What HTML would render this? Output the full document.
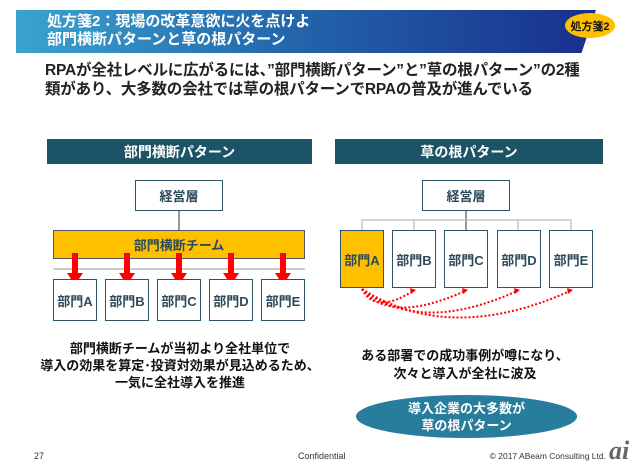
<!DOCTYPE html>
<html><head><meta charset="utf-8"><style>
*{margin:0;padding:0;box-sizing:border-box}
body{width:640px;height:471px;background:#fff;position:relative;overflow:hidden;font-family:"Liberation Sans","Noto Sans CJK JP",sans-serif;font-weight:bold}
.a{position:absolute}
.box{position:absolute;border:1.5px solid #2d5566;background:#fff;color:#2d4a5a;font-size:13px;display:flex;align-items:center;justify-content:center}
.t{position:absolute;text-align:center;white-space:nowrap}
</style></head><body>
<div class="a" style="left:16px;top:10px;width:580px;height:43px;background:linear-gradient(90deg,#3aa3cf,#2468ad 45%,#182f8c);clip-path:polygon(0 0,100% 0,97.5% 100%,0 100%)"></div>
<div class="a" style="left:47px;top:13px;color:#fff;font-size:15px;line-height:17.5px">処方箋2：現場の改革意欲に火を点けよ<br>部門横断パターンと草の根パターン</div>
<div class="a" style="left:565px;top:13px;width:50px;height:25px;border-radius:50%;background:#ffc000;font-size:11px;display:flex;align-items:center;justify-content:center;color:#111">処方箋2</div>
<div class="a" style="left:45px;top:61px;font-size:15.5px;line-height:19px;color:#222;letter-spacing:-0.2px;white-space:nowrap">RPAが全社レベルに広がるには、”部門横断パターン”と”草の根パターン”の2種<br>類があり、大多数の会社では草の根パターンでRPAの普及が進んでいる</div>

<div class="a" style="left:47px;top:139px;width:265px;height:25px;background:#1d5366;color:#fff;font-size:14px;display:flex;align-items:center;justify-content:center">部門横断パターン</div>
<div class="a" style="left:335px;top:139px;width:268px;height:25px;background:#1d5366;color:#fff;font-size:14px;display:flex;align-items:center;justify-content:center">草の根パターン</div>

<svg class="a" style="left:0;top:0" width="640" height="471">
<line x1="179" y1="210" x2="179" y2="230" stroke="#333" stroke-width="1"/>
<line x1="53" y1="269" x2="305" y2="269" stroke="#bbb" stroke-width="1.5"/>
<line x1="466" y1="210" x2="466" y2="230" stroke="#333" stroke-width="1"/>
<polyline points="362,230 362,220 571,220 571,230" fill="none" stroke="#bbb" stroke-width="1.2"/>
<line x1="414" y1="220" x2="414" y2="230" stroke="#bbb" stroke-width="1.2"/>
<line x1="518" y1="220" x2="518" y2="230" stroke="#bbb" stroke-width="1.2"/>
<g fill="none" stroke="#f00" stroke-width="2" stroke-dasharray="2,2">
<path d="M362,289 Q375,315 413,291"/>
<path d="M362,289 Q390,325 465,291"/>
<path d="M362,289 Q420,335 517,291"/>
<path d="M362,289 Q450,345 570,291"/>
</g>
<g fill="#f00">
<polygon points="410,288 416,290 411,294"/><polygon points="462,288 468,290 463,294"/><polygon points="514,288 520,290 515,294"/><polygon points="567,288 573,290 568,294"/>
</g>
</svg>

<div class="box" style="left:135px;top:180px;width:88px;height:31px">経営層</div>
<div class="box" style="left:53px;top:230px;width:252px;height:29px;background:#ffc000;border-color:#556">部門横断チーム</div>
<svg class="a" style="left:0;top:0" width="640" height="471">
<g fill="#f00">
<rect x="72" y="253" width="6" height="22"/><polygon points="67,273 83,273 75,285"/>
<rect x="124" y="253" width="6" height="22"/><polygon points="119,273 135,273 127,285"/>
<rect x="176" y="253" width="6" height="22"/><polygon points="171,273 187,273 179,285"/>
<rect x="228" y="253" width="6" height="22"/><polygon points="223,273 239,273 231,285"/>
<rect x="280" y="253" width="6" height="22"/><polygon points="275,273 291,273 283,285"/>
</g></svg>
<div class="box" style="left:53px;top:279px;width:44px;height:42px">部門A</div>
<div class="box" style="left:105px;top:279px;width:44px;height:42px">部門B</div>
<div class="box" style="left:157px;top:279px;width:44px;height:42px">部門C</div>
<div class="box" style="left:209px;top:279px;width:44px;height:42px">部門D</div>
<div class="box" style="left:261px;top:279px;width:44px;height:42px">部門E</div>

<div class="box" style="left:422px;top:180px;width:88px;height:31px">経営層</div>
<div class="box" style="left:340px;top:230px;width:44px;height:58px;background:#ffc000">部門A</div>
<div class="box" style="left:392px;top:230px;width:44px;height:58px">部門B</div>
<div class="box" style="left:444px;top:230px;width:44px;height:58px">部門C</div>
<div class="box" style="left:497px;top:230px;width:44px;height:58px">部門D</div>
<div class="box" style="left:549px;top:230px;width:44px;height:58px">部門E</div>

<div class="t" style="left:30px;width:300px;top:340px;font-size:13px;line-height:17px;color:#111">部門横断チームが当初より全社単位で<br>導入の効果を算定･投資対効果が見込めるため、<br>一気に全社導入を推進</div>
<div class="t" style="left:315px;width:300px;top:347px;font-size:13px;line-height:18px;color:#111">ある部署での成功事例が噂になり、<br>次々と導入が全社に波及</div>
<div class="a" style="left:356px;top:395px;width:221px;height:43px;border-radius:50%;background:#287c9c;color:#fff;font-size:13px;line-height:17px;text-align:center;display:flex;align-items:center;justify-content:center">導入企業の大多数が<br>草の根パターン</div>

<div class="a" style="left:34px;top:451px;font-size:9px;font-weight:normal;color:#333">27</div>
<div class="a" style="left:298px;top:451px;font-size:9px;font-weight:normal;color:#333">Confidential</div>
<div class="a" style="right:34px;top:451px;font-size:8.5px;font-weight:normal;color:#333;white-space:nowrap">© 2017 ABeam Consulting Ltd.</div>
<div class="a" style="left:609px;top:436px;font-size:26px;font-style:italic;color:#666;font-family:'Liberation Serif',serif">ai</div>
</body></html>
